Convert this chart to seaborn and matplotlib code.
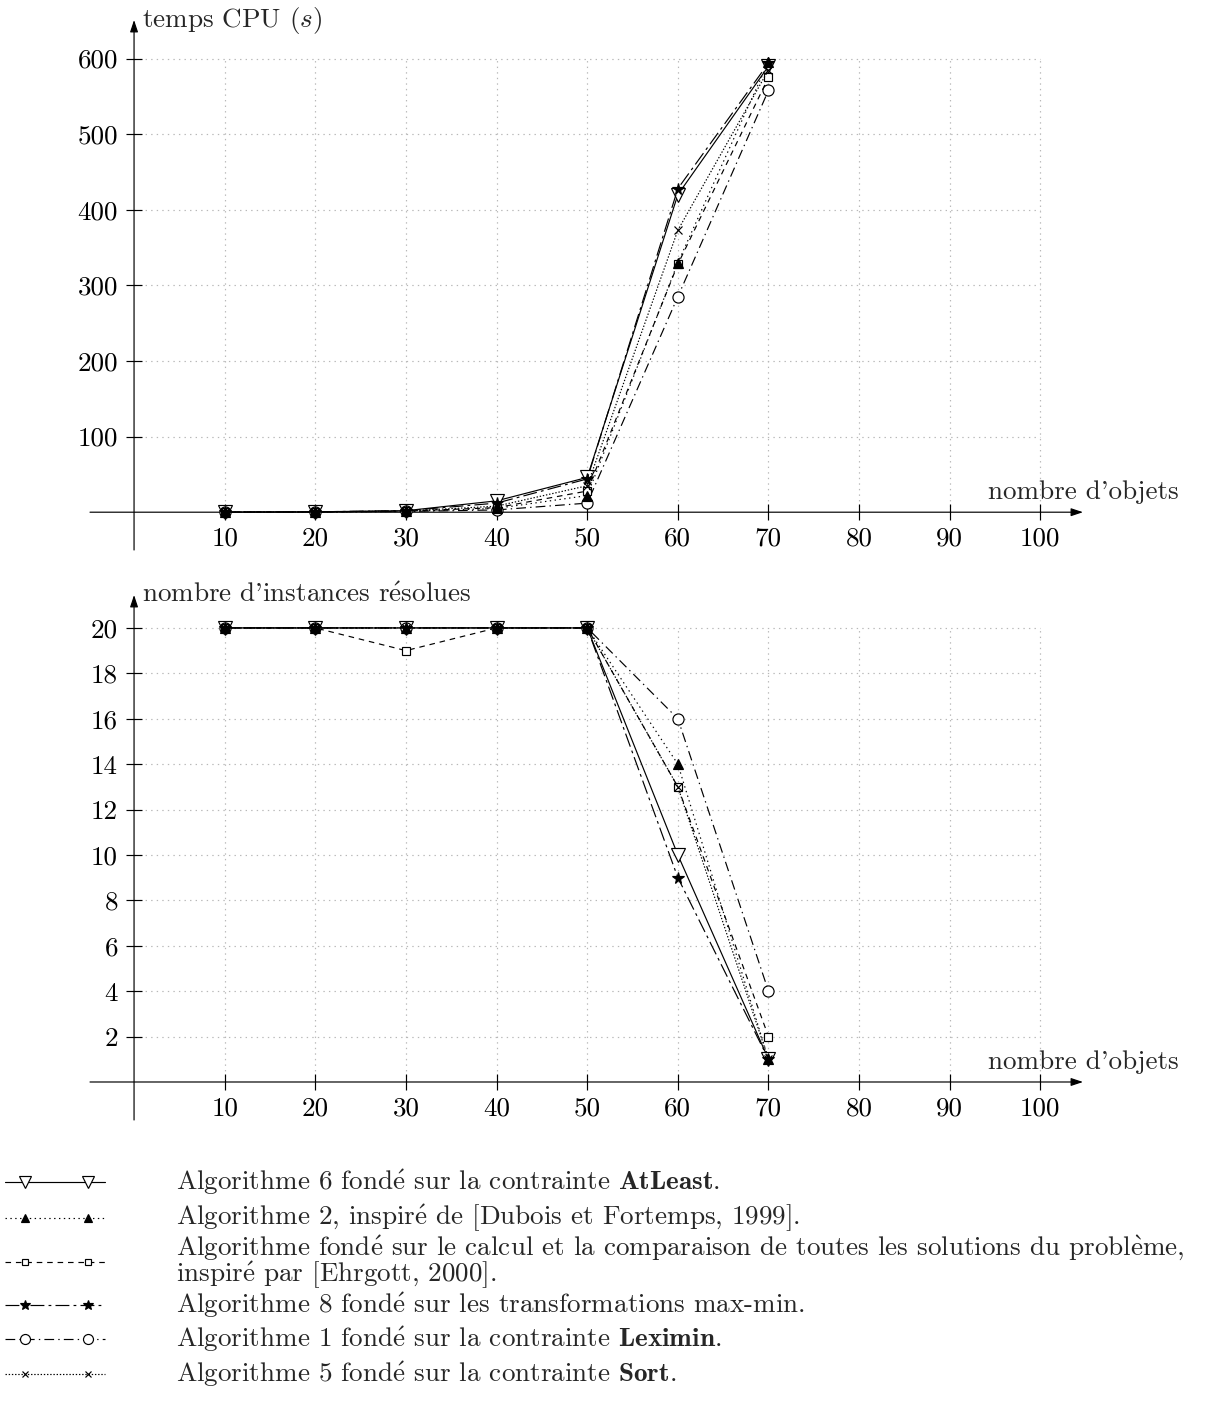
import matplotlib
matplotlib.use("Agg")
import matplotlib.pyplot as plt
import seaborn as sns

# ---- data -------------------------------------------------------------
n_objets = [10, 20, 30, 40, 50, 60, 70]

cpu_alg6 = [0.2, 0.5, 2.0, 15, 46, 420, 590]
cpu_alg2 = [0.1, 0.3, 1.0, 5, 22, 330, 596]
cpu_ehrgott = [0.1, 0.4, 1.5, 6, 28, 328, 575]
cpu_alg8 = [0.2, 0.5, 2.0, 12, 44, 428, 594]
cpu_alg1 = [0.1, 0.3, 1.0, 3, 12, 285, 558]
cpu_alg5 = [0.1, 0.4, 1.5, 8, 35, 373, 585]

res_alg6 = [20, 20, 20, 20, 20, 10, 1]
res_alg2 = [20, 20, 20, 20, 20, 14, 1]
res_ehrgott = [20, 20, 19, 20, 20, 13, 2]
res_alg8 = [20, 20, 20, 20, 20, 9, 1]
res_alg1 = [20, 20, 20, 20, 20, 16, 4]
res_alg5 = [20, 20, 20, 20, 20, 13, 1]

x_ticks = [10, 20, 30, 40, 50, 60, 70, 80, 90, 100]
cpu_ticks = [100, 200, 300, 400, 500, 600]
res_ticks = [2, 4, 6, 8, 10, 12, 14, 16, 18, 20]

ACUTE = r"$\mathrm{\acute{e}}$"
GRAVE = r"$\mathrm{\grave{e}}$"


def fr(s):
    return s.replace("é", ACUTE).replace("è", GRAVE)


legend_texts = [
    fr("Algorithme 6 fondé sur la contrainte ") + r"$\mathbf{AtLeast}$.",
    fr("Algorithme 2, inspiré de [Dubois et Fortemps, 1999]."),
    fr("Algorithme fondé sur le calcul et la comparaison de toutes les solutions du problème,")
    + "\n" + fr("inspiré par [Ehrgott, 2000]."),
    fr("Algorithme 8 fondé sur les transformations max-min."),
    fr("Algorithme 1 fondé sur la contrainte ") + r"$\mathbf{Leximin}$.",
    fr("Algorithme 5 fondé sur la contrainte ") + r"$\mathbf{Sort}$.",
]

# ---- style ------------------------------------------------------------
sns.set_theme(style="white")
plt.rcParams["font.family"] = ["cmr10", "Liberation Serif"]
plt.rcParams["mathtext.fontset"] = "cm"
plt.rcParams["axes.formatter.use_mathtext"] = True
plt.rcParams["lines.scale_dashes"] = False
plt.rcParams["axes.unicode_minus"] = False

FS = 19.5
LW = 0.85

series = [
    dict(cpu=cpu_alg6, res=res_alg6, ls="-", marker="v", ms=10, fc="white", z=3.0),
    dict(cpu=cpu_alg2, res=res_alg2, ls=(0, (1, 2.5)), marker="^", ms=7, fc="black", z=3.5),
    dict(cpu=cpu_ehrgott, res=res_ehrgott, ls=(0, (4, 3.5)), marker="s", ms=5.5, fc="white", z=3.2),
    dict(cpu=cpu_alg8, res=res_alg8, ls=(0, (10, 3, 2, 3)), marker="*", ms=8.5, fc="black", z=3.6),
    dict(cpu=cpu_alg1, res=res_alg1, ls=(0, (7, 3, 1, 3)), marker="o", ms=8, fc="white", z=3.1),
    dict(cpu=cpu_alg5, res=res_alg5, ls=(0, (1, 1.3)), marker="x", ms=5.5, fc="black", z=3.3),
]

W, H = 1226, 1415
fig = plt.figure(figsize=(W / 100, H / 100), dpi=100)


def px_axes(x0, y0, x1, y1):
    return fig.add_axes([x0 / W, 1 - y1 / H, (x1 - x0) / W, (y1 - y0) / H])


def style_axes(ax, xlim, ylim, yticks, ylabel, grid_top):
    ax.set_xlim(*xlim)
    ax.set_ylim(*ylim)
    for sp in ax.spines.values():
        sp.set_visible(False)
    ax.spines["left"].set_position(("data", 0))
    ax.spines["bottom"].set_position(("data", 0))
    ax.set_xticks(x_ticks)
    ax.set_xticklabels([str(t) for t in x_ticks])
    ax.set_yticks(yticks)
    ax.set_yticklabels([str(t) for t in yticks])
    ax.tick_params(axis="both", direction="inout", length=11, width=LW,
                   colors="black", labelsize=FS, bottom=True, left=True)
    ax.tick_params(axis="x", pad=5)
    ax.tick_params(axis="y", pad=6)
    ax.grid(False)
    ax.set_xlabel("")
    ax.set_ylabel("")
    # dotted grid restricted to the data area
    ax.vlines(x_ticks, 0, grid_top, colors="#b8b8b8", linestyles=(0, (1, 3)),
              lw=LW, zorder=0)
    ax.hlines(yticks, 0, x_ticks[-1], colors="#b8b8b8", linestyles=(0, (1, 3)),
              lw=LW, zorder=0)
    # axis lines with arrow heads
    arrow = dict(arrowstyle="-|>,head_length=0.6,head_width=0.2", lw=LW,
                 color="black", shrinkA=0, shrinkB=0)
    ax.annotate("", xy=(xlim[1], 0), xytext=(xlim[0], 0), arrowprops=arrow,
                annotation_clip=False)
    ax.annotate("", xy=(0, ylim[1]), xytext=(0, ylim[0]), arrowprops=arrow,
                annotation_clip=False)
    ax.annotate(ylabel, xy=(0, ylim[1]), xytext=(6, 0), textcoords="offset points",
                ha="left", va="center", fontsize=FS, annotation_clip=False)
    ax.annotate(fr("nombre d'objets"), xy=(xlim[1], 0), xytext=(0, 6),
                textcoords="offset points", ha="center", va="bottom",
                fontsize=FS, annotation_clip=False)


def draw_series(ax, key):
    for s in series:
        sns.lineplot(x=n_objets, y=s[key], ax=ax, color="black", lw=LW,
                     linestyle=s["ls"], marker=s["marker"], markersize=s["ms"],
                     markerfacecolor=s["fc"], markeredgecolor="black",
                     markeredgewidth=LW, errorbar=None, clip_on=False,
                     zorder=s["z"])


# ---- CPU time ---------------------------------------------------------
ax1 = px_axes(90, 20, 1083, 550)
draw_series(ax1, "cpu")
style_axes(ax1, (-4.86, 104.7), (-50, 651), cpu_ticks,
           r"temps CPU ($s$)", 600)

# ---- solved instances -------------------------------------------------
ax2 = px_axes(90, 595, 1083, 1120)
draw_series(ax2, "res")
style_axes(ax2, (-4.86, 104.7), (-1.674, 21.45), res_ticks,
           fr("nombre d'instances résolues"), 20)

# ---- legend -----------------------------------------------------------
lax = px_axes(0, 1160, W, H)
lax.set_xlim(0, W)
lax.set_ylim(H, 1160)
lax.axis("off")
rows = [1182, 1218, 1262, 1305, 1339, 1374]
for s, y, txt in zip(series, rows, legend_texts):
    lax.plot([5, 105], [y, y], color="black", lw=LW, linestyle=s["ls"])
    lax.plot([25, 88], [y, y], linestyle="none", marker=s["marker"],
             markersize=s["ms"] * 0.9, markerfacecolor=s["fc"],
             markeredgecolor="black", markeredgewidth=LW)
    lax.text(176, y, txt, ha="left", va="center", fontsize=FS,
             linespacing=0.9)

fig.savefig("out.png", dpi=100)
